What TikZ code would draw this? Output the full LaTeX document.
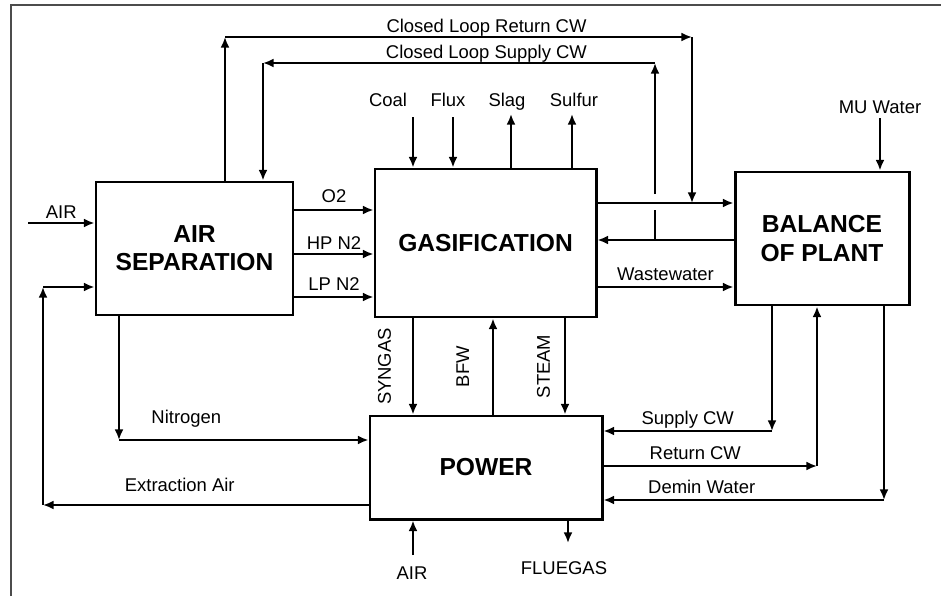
\documentclass[tikz,border=0pt]{standalone}
\usepackage{fontspec}
\setmainfont{Liberation Sans}
\usetikzlibrary{arrows.meta, positioning}

\begin{document}
\begin{tikzpicture}[>={Latex[length=6pt,width=5pt]},
   unit/.style={draw, line width=1.7pt, align=center,
                font=\fontsize{14}{16}\selectfont\bfseries},
   flow/.style={->, line width=1.1pt},
   pipe/.style={line width=1.1pt},
   lbl/.style={font=\fontsize{10.5}{12}\selectfont, inner sep=1pt, text depth=0pt}]
  \useasboundingbox (0,0) rectangle (18.82,-11.92);
  \draw[line width=0.6pt, black!70] (0.22,-11.92) -- (0.22,-0.1) -- (18.82,-0.1);

  % process units
  \node[unit, minimum width=3.94cm, minimum height=2.66cm] (asu) at (3.89,-4.97) {AIR\\SEPARATION};
  \node[unit, minimum width=4.42cm, minimum height=2.96cm] (gas) at (9.71,-4.86) {GASIFICATION};
  \node[unit, minimum width=3.48cm, minimum height=2.66cm] (bop) at (16.44,-4.77) {BALANCE\\OF PLANT};
  \node[unit, minimum width=4.64cm, minimum height=2.06cm] (pow) at (9.72,-9.35) {POWER};

  % feeds and products on top
  \node[lbl] (coal) at (7.76,-2.0) {Coal};
  \node[lbl] (flux) at (8.96,-2.0) {Flux};
  \node[lbl] (slag) at (10.14,-2.0) {Slag};
  \node[lbl] (sulfur) at (11.48,-2.0) {Sulfur};
  \node[lbl] (muw) at (17.6,-2.14) {MU Water};
  \coordinate (coalin) at (8.26,-2.34);
  \coordinate (fluxin) at (9.06,-2.34);
  \coordinate (slagout) at (10.22,-2.28);
  \coordinate (sulfout) at (11.44,-2.28);
  \coordinate (muwin) at (17.6,-2.36);
  \draw[flow] (coalin) -- (coalin |- gas.north);
  \draw[flow] (fluxin) -- (fluxin |- gas.north);
  \draw[flow] (slagout |- gas.north) -- (slagout);
  \draw[flow] (sulfout |- gas.north) -- (sulfout);
  \draw[flow] (muwin) -- (muwin |- bop.north);

  % air separation
  \coordinate (airin) at (0.56,-4.46);
  \draw[flow] (airin) -- node[lbl, above=1pt] {AIR} (airin -| asu.west);
  \draw[flow] ([yshift=7.7mm]asu.east) -- node[lbl, above=3pt] {O2} ([yshift=7.7mm]asu.east -| gas.west);
  \draw[flow] ([yshift=-1.1mm]asu.east) -- node[lbl, above=1pt] {HP N2} ([yshift=-1.1mm]asu.east -| gas.west);
  \draw[flow] ([yshift=-9.7mm]asu.east) -- node[lbl, above=2pt] {LP N2} ([yshift=-9.7mm]asu.east -| gas.west);

  % gasification <-> balance of plant
  \coordinate (g2b) at ([yshift=8mm]gas.east);
  \coordinate (b2g) at ([yshift=0.6mm]gas.east);
  \draw[flow] (g2b) -- (g2b -| bop.west);
  \draw[flow] (b2g -| bop.west) -- (b2g);
  \draw[flow] ([yshift=-8.8mm]gas.east) -- node[lbl, above=2pt] {Wastewater} ([yshift=-8.8mm]gas.east -| bop.west);

  % closed loop cooling water
  \coordinate (rt1) at (4.5,-0.74);
  \coordinate (rt2) at (13.84,-0.74);
  \draw[flow] (rt1 |- asu.north) -- (rt1);
  \draw[flow] (rt1) -- node[lbl, above=1pt, pos=0.56] {Closed Loop Return CW} (rt2);
  \draw[flow] (rt2) -- (rt2 |- g2b);
  \coordinate (sp1) at (13.1,-1.26);
  \coordinate (sp2) at (5.26,-1.26);
  \coordinate (gapb) at (13.1,-4.2);
  \coordinate (gapt) at (13.1,-3.88);
  \draw[pipe] (sp1 |- b2g) -- (gapb);
  \draw[flow] (gapt) -- (sp1);
  \draw[flow] (sp1) -- node[lbl, above=1pt, pos=0.43] {Closed Loop Supply CW} (sp2);
  \draw[flow] (sp2) -- (sp2 |- asu.north);

  % nitrogen and extraction air
  \coordinate (n2) at (2.38,-8.8);
  \draw[flow] (n2 |- asu.south) -- (n2);
  \draw[flow] (n2) -- node[lbl, above=8pt, pos=0.27] {Nitrogen} (n2 -| pow.west);
  \coordinate (ex1) at (0.86,-10.1);
  \coordinate (ex2) at (0.86,-5.74);
  \draw[flow] (ex1 -| pow.west) -- node[lbl, above=6pt, pos=0.58] {Extraction Air} (ex1);
  \draw[flow] (ex1) -- (ex2);
  \draw[flow] (ex2) -- (ex2 -| asu.west);

  % gasification <-> power
  \coordinate (syn) at (8.26,0);
  \coordinate (bfw) at (9.86,0);
  \coordinate (stm) at (11.3,0);
  \draw[flow] (syn |- gas.south) -- node[lbl, xshift=-11pt, rotate=90, anchor=south] {SYNGAS} (syn |- pow.north);
  \draw[flow] (bfw |- pow.north) -- node[lbl, xshift=-12pt, rotate=90, anchor=south] {BFW} (bfw |- gas.south);
  \draw[flow] (stm |- gas.south) -- node[lbl, xshift=-7pt, rotate=90, anchor=south] {STEAM} (stm |- pow.north);

  % balance of plant <-> power
  \coordinate (scw) at (15.44,-8.62);
  \draw[flow] (scw |- bop.south) -- (scw);
  \draw[flow] (scw) -- node[lbl, above=2pt] {Supply CW} (scw -| pow.east);
  \coordinate (rcw) at (16.34,-9.32);
  \draw[flow] (rcw -| pow.east) -- node[lbl, above=2pt, pos=0.43] {Return CW} (rcw);
  \draw[flow] (rcw) -- (rcw |- bop.south);
  \coordinate (dmw) at (17.68,-10.0);
  \draw[flow] (dmw |- bop.south) -- (dmw);
  \draw[flow] (dmw) -- node[lbl, above=2pt, pos=0.65] {Demin Water} (dmw -| pow.east);

  % power air and flue gas
  \node[lbl] (pair) at (8.24,-11.46) {AIR};
  \node[lbl] (flue) at (11.28,-11.36) {FLUEGAS};
  \coordinate (pairin) at (8.26,-11.1);
  \coordinate (flueout) at (11.36,-10.86);
  \draw[flow] (pairin) -- (pairin |- pow.south);
  \draw[flow] (flueout |- pow.south) -- (flueout);
\end{tikzpicture}
\end{document}
